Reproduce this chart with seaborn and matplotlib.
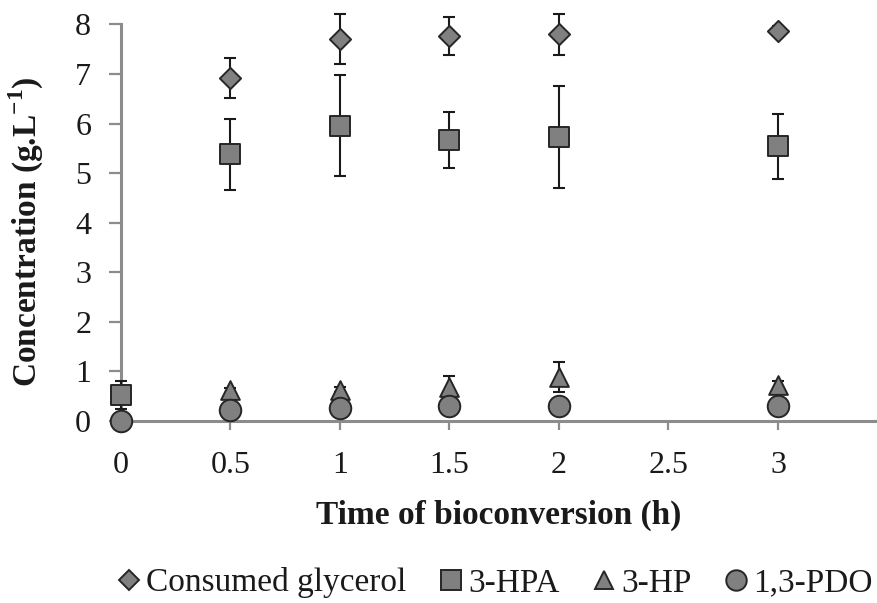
import numpy as np
import pandas as pd
import matplotlib
matplotlib.use("Agg")
import matplotlib.pyplot as plt
from matplotlib.lines import Line2D
import seaborn as sns

# ---- data ----
time_main = [0, 0.5, 1, 1.5, 2, 3]
glycerol = [0, 6.92, 7.70, 7.76, 7.80, 7.87]
glycerol_err = [0, 0.41, 0.50, 0.38, 0.41, 0.10]
hpa = [0.52, 5.38, 5.96, 5.67, 5.73, 5.54]
hpa_err = [0.28, 0.72, 1.02, 0.57, 1.02, 0.66]
time_hp = [0.5, 1, 1.5, 2, 3]
hp = [0.62, 0.63, 0.69, 0.89, 0.73]
hp_err = [0.05, 0.05, 0.22, 0.30, 0.08]
pdo = [0, 0.22, 0.26, 0.30, 0.30, 0.30]
pdo_err = [0.02, 0.03, 0.03, 0.03, 0.03, 0.03]

series_names = ["Consumed glycerol", "3-HPA", "3-HP", "1,3-PDO"]
x_ticks = [0, 0.5, 1, 1.5, 2, 2.5, 3]
x_ticklabels = ["0", "0.5", "1", "1.5", "2", "2.5", "3"]
y_ticks = [0, 1, 2, 3, 4, 5, 6, 7, 8]

sns.set_theme(style="white")
plt.rcParams["font.family"] = ["Liberation Serif", "DejaVu Serif"]
plt.rcParams["mathtext.fontset"] = "custom"
plt.rcParams["mathtext.rm"] = "Liberation Serif"
plt.rcParams["mathtext.bf"] = "Liberation Serif:bold"

fig = plt.figure(figsize=(8.77, 6.03), dpi=100)
ax = fig.add_axes([121 / 877, 1 - 421 / 603, 1 - 121 / 877, (421 - 24.4) / 603])

fill = "#808080"
edge = "#262626"
styles = {
    "Consumed glycerol": dict(marker="D", size=10.8),
    "3-HPA": dict(marker="s", size=14.5),
    "3-HP": dict(marker="^", size=13.5),
    "1,3-PDO": dict(marker="o", size=15.5),
}
data = {
    "Consumed glycerol": (time_main, glycerol, glycerol_err),
    "3-HPA": (time_main, hpa, hpa_err),
    "3-HP": (time_hp, hp, hp_err),
    "1,3-PDO": (time_main, pdo, pdo_err),
}

for name in series_names:
    t, v, e = data[name]
    ax.errorbar(t, v, yerr=e, fmt="none", ecolor="#1a1a1a", elinewidth=1.5,
                capsize=4.3, capthick=1.5, zorder=2, clip_on=False)

for i, name in enumerate(series_names):
    t, v, e = data[name]
    df = pd.DataFrame({"t": t, "v": v})
    st = styles[name]
    sns.scatterplot(data=df, x="t", y="v", marker=st["marker"], s=st["size"] ** 2,
                    color=fill, edgecolor=edge, linewidth=1.4, ax=ax,
                    zorder=3 + i, clip_on=False, legend=False)

ax.set_xlim(0, (877 - 121) / 219)
ax.set_ylim(0, 8)
ax.set_xticks(x_ticks)
ax.set_xticklabels(x_ticklabels)
ax.set_yticks(y_ticks)
ax.set_yticklabels([str(v) for v in y_ticks])

for s in ["top", "right"]:
    ax.spines[s].set_visible(False)
for s in ["left", "bottom"]:
    ax.spines[s].set_color("#8c8c8c")
    ax.spines[s].set_linewidth(2.2)
    ax.spines[s].set_zorder(1)

ax.tick_params(axis="x", which="major", direction="out", length=6.5, width=1.6,
               color="#8c8c8c", labelsize=23, labelcolor="#1a1a1a", pad=15, bottom=True)
ax.tick_params(axis="y", which="major", direction="out", length=8.5, width=1.6,
               color="#8c8c8c", labelsize=23, labelcolor="#1a1a1a", pad=13, left=True)

ax.set_xlabel("Time of bioconversion (h)", fontsize=24, fontweight="bold",
              color="#1a1a1a", labelpad=14)
ax.set_ylabel(r"Concentration (g.L$^{\mathbf{-1}}$)", fontsize=24, fontweight="bold",
              color="#1a1a1a")
ax.yaxis.set_label_coords(-(121 - 46) / 756, 0.478)

handles = [Line2D([0], [0], marker=styles[n]["marker"], linestyle="none",
                  markersize=styles[n]["size"] * 0.95, markerfacecolor=fill,
                  markeredgecolor=edge, markeredgewidth=1.4) for n in series_names]
fig.legend(handles, series_names, loc="center", bbox_to_anchor=(495 / 877, 1 - 583 / 603),
           ncol=4, frameon=False, fontsize=24, handlelength=0.7, handletextpad=0.15,
           columnspacing=1.0, borderpad=0, labelcolor="#1a1a1a")

fig.savefig("out.png", dpi=100)
